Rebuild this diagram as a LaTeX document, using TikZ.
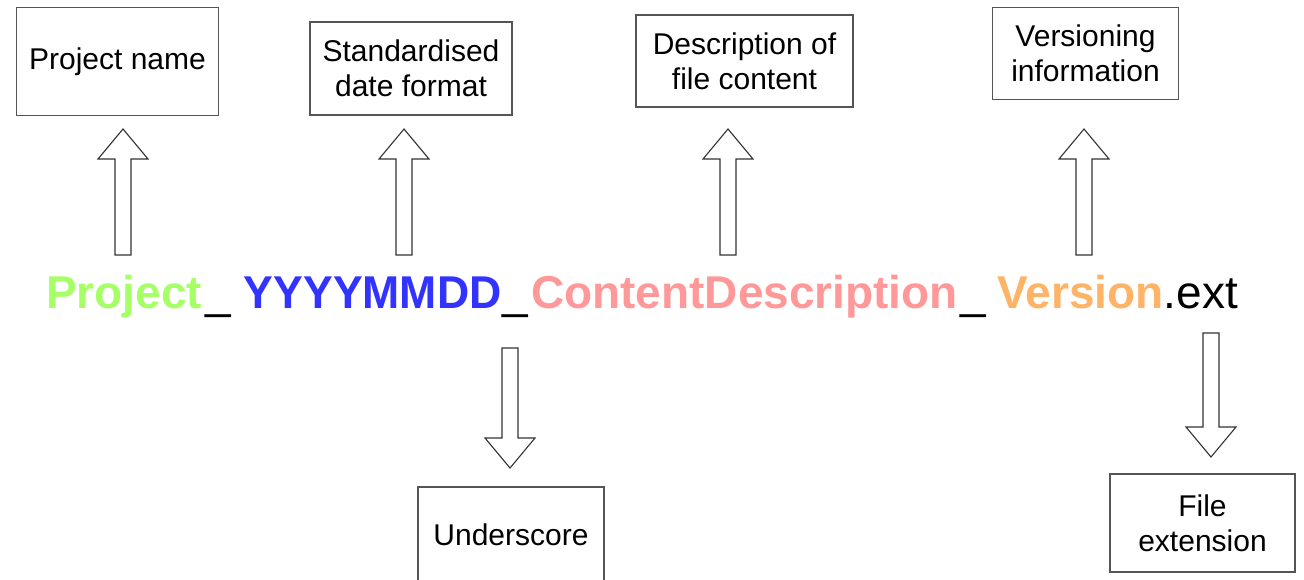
\documentclass[tikz,border=0pt]{standalone}
\usepackage{fontspec}
\usepackage{graphicx}
\setmainfont{Liberation Sans}
\usetikzlibrary{calc}

\definecolor{cproj}{HTML}{A6FF66}
\definecolor{cdate}{HTML}{3333FF}
\definecolor{cdesc}{HTML}{FF9999}
\definecolor{cver}{HTML}{FFB366}
\definecolor{cline}{HTML}{555555}

\tikzset{
  infobox/.style={draw=cline, line width=1.5pt, align=center, inner sep=0pt,
    font=\fontsize{30}{35}\selectfont},
  arrowbody/.style={draw=black!80, line width=1.1pt, fill=white, line join=miter}
}

% outlined block arrow from #1 (tail) to #2 (tip), vertical only
\newcommand{\blockarrow}[2]{%
  \draw[arrowbody] let \p1=(#1), \p2=(#2), \n1={sign(\y2-\y1)} in
    (\x1-8pt,\y1) -- (\x1-8pt,{\y2-\n1*30pt}) -- (\x1-25pt,{\y2-\n1*30pt}) -- (\x2,\y2)
    -- (\x1+25pt,{\y2-\n1*30pt}) -- (\x1+8pt,{\y2-\n1*30pt}) -- (\x1+8pt,\y1) -- cycle;}
\newcommand{\usep}[2]{\hspace{#1pt}\_\hspace{#2pt}}

\begin{document}
\begin{tikzpicture}[x=1pt, y=-1pt]
\useasboundingbox (0,0) rectangle (1304,579);

\node[anchor=base west, inner sep=0pt, font=\fontsize{46}{55}\selectfont] (fname) at (46,308)
  {{\bfseries\color{cproj}Project}\usep{3}{13}{\bfseries\color{cdate}\scalebox{0.97}[1]{YYYYMMDD}}\usep{1}{3}{\bfseries\color{cdesc}ContentDescription}\usep{3}{11}{\bfseries\color{cver}Version}.ext};

\node[infobox, minimum width=202, minimum height=108] (pname) at (117.5,61.5) {Project name};
\node[infobox, minimum width=202, minimum height=93] (pdate) at (411,68.5) {Standardised\\date format};
\node[infobox, minimum width=217, minimum height=92] (pdesc) at (744.5,61) {Description of\\file content};
\node[infobox, minimum width=186, minimum height=92] (pver) at (1085.5,53.5) {Versioning\\information};
\node[infobox, minimum width=186, minimum height=95] (pund) at (511,534.5) {Underscore};
\node[infobox, minimum width=185, minimum height=98] (pext) at (1202.5,523) {File\\extension};

\coordinate (a1) at (123,255);  \coordinate (b1) at (123,129);
\coordinate (a2) at (404,255);  \coordinate (b2) at (404,129);
\coordinate (a3) at (728,255);  \coordinate (b3) at (728,129);
\coordinate (a4) at (1084,255); \coordinate (b4) at (1084,129);
\coordinate (a5) at (510,348);  \coordinate (b5) at (510,468);
\coordinate (a6) at (1211,333); \coordinate (b6) at (1211,457);

\blockarrow{a1}{b1}
\blockarrow{a2}{b2}
\blockarrow{a3}{b3}
\blockarrow{a4}{b4}
\blockarrow{a5}{b5}
\blockarrow{a6}{b6}
\end{tikzpicture}
\end{document}
